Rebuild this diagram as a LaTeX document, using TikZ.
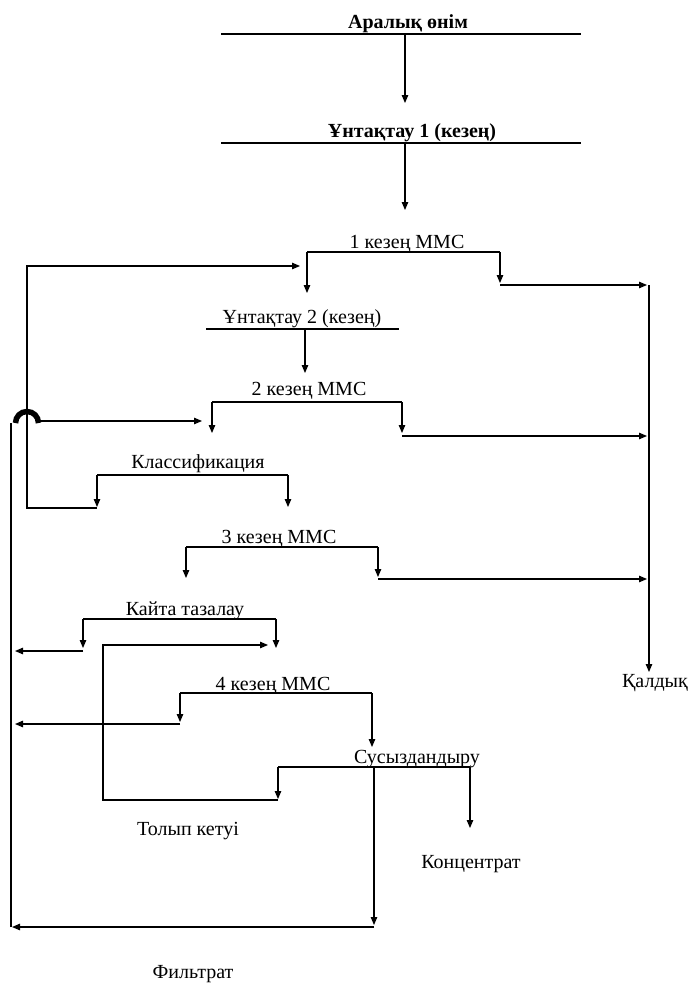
\documentclass[tikz,border=0pt]{standalone}
\usepackage{fontspec}
\setmainfont{Liberation Serif}
\usetikzlibrary{arrows.meta}
\begin{document}
\begin{tikzpicture}[x=1pt,y=-1pt, line width=1.1pt,
  lbl/.style={anchor=base, inner sep=0pt, font=\fontsize{20}{24}\selectfont},
  blbl/.style={anchor=base, inner sep=0pt, font=\fontsize{20}{24}\selectfont\bfseries},
  arr/.style={-{Triangle[length=8pt,width=6.5pt]}}]
\useasboundingbox (0,0) rectangle (690,983);

% text nodes
\node[blbl] (aralyq) at (408,28) {Аралық өнім};
\node[blbl] (untaq1) at (412,137) {Ұнтақтау 1 (кезең)};
\node[lbl] (mms1) at (407,248) {1 кезең ММС};
\node[lbl] (untaq2) at (302,323) {Ұнтақтау 2 (кезең)};
\node[lbl] (mms2) at (309,395) {2 кезең ММС};
\node[lbl] (klass) at (198,468) {Классификация};
\node[lbl] (mms3) at (279,543) {3 кезең ММС};
\node[lbl] (kaita) at (185,615) {Кайта тазалау};
\node[lbl] (mms4) at (273,690) {4 кезең ММС};
\node[lbl] (sus) at (417,763) {Сусыздандыру};
\node[lbl] (qaldyq) at (655,687) {Қалдық};
\node[lbl] (tolyp) at (188,835) {Толып кетуі};
\node[lbl] (konc) at (471,868) {Концентрат};
\node[lbl] (filt) at (193,978) {Фильтрат};

% underlines
\coordinate (a1) at (221,34);  \coordinate (a2) at (581,34);
\coordinate (b1) at (221,143); \coordinate (b2) at (581,143);
\coordinate (c1) at (307,252); \coordinate (c2) at (500,252);
\coordinate (d1) at (206,329); \coordinate (d2) at (399,329);
\coordinate (e1) at (212,402); \coordinate (e2) at (402,402);
\coordinate (f1) at (97,475);  \coordinate (f2) at (288,475);
\coordinate (g1) at (186,547); \coordinate (g2) at (378,547);
\coordinate (h1) at (83,619);  \coordinate (h2) at (276,619);
\coordinate (i1) at (180,693); \coordinate (i2) at (372,693);
\coordinate (j1) at (278,767); \coordinate (j2) at (470,767);
\draw (a1) -- (a2);
\draw (b1) -- (b2);
\draw (c1) -- (c2);
\draw (d1) -- (d2);
\draw (e1) -- (e2);
\draw (f1) -- (f2);
\draw (g1) -- (g2);
\draw (h1) -- (h2);
\draw (i1) -- (i2);
\draw (j1) -- (j2);

% main chain
\draw[arr] (405,34) -- (405,103);
\draw[arr] (405,143) -- (405,210);

% stage 1
\draw[arr] (c1) -- (307,293);
\draw[arr] (c2) -- (500,283);
\draw[arr] (500,285) -- (647,285);
\draw[arr] (649,285) -- (649,672);

% grinding 2
\draw[arr] (305,329) -- (305,373);

% stage 2
\draw[arr] (e1) -- (212,433);
\draw[arr] (e2) -- (402,433);
\draw[arr] (402,436) -- (647,436);

% classification
\draw[arr] (f1) -- (97,507);
\draw[arr] (f2) -- (288,507);
\draw[arr] (97,508) -- (27,508) -- (27,266) -- (300,266);

% stage 3
\draw[arr] (g1) -- (186,578);
\draw[arr] (g2) -- (378,577);
\draw[arr] (378,579) -- (647,579);

% re-cleaning
\draw[arr] (h1) -- (83,648);
\draw[arr] (h2) -- (276,648);
\draw[arr] (83,651) -- (15,651);

% stage 4
\draw[arr] (i1) -- (180,722);
\draw[arr] (i2) -- (372,747);
\draw[arr] (180,724) -- (15,724);

% dewatering
\draw[arr] (j2) -- (470,828);
\draw[arr] (j1) -- (278,799);
\draw[arr] (278,800) -- (103,800) -- (103,645) -- (268,645);
\draw[arr] (374,767) -- (374,925);
\draw[arr] (374,927) -- (12,927);

% return line with hop
\draw (11,927) -- (11,423);
\draw[line width=5.5pt] (15.5,423) arc[start angle=180, end angle=0, radius=11.5pt];
\draw[arr] (40,421) -- (202,421);
\end{tikzpicture}
\end{document}
